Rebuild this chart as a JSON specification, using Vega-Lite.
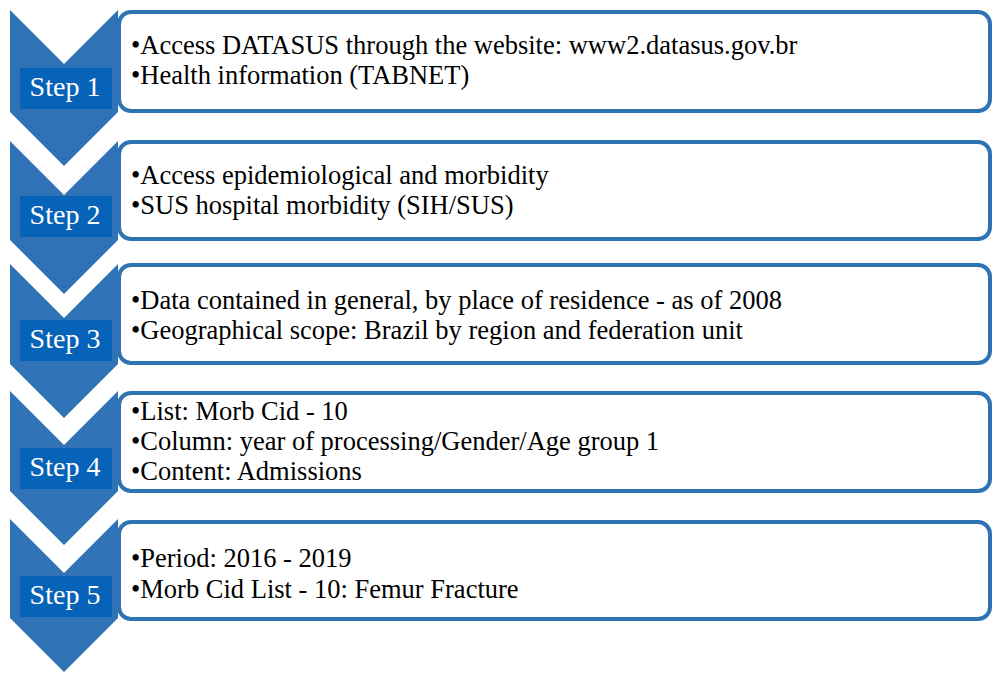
{
  "$schema": "https://vega.github.io/schema/vega-lite/v6.json",
  "width": 993,
  "height": 673,
  "autosize": {"type": "fit", "contains": "padding"},
  "padding": 0,
  "background": "white",
  "config": {"view": {"stroke": null}},
  "datasets": {
    "chev": [
      {"step": 1, "x": 10, "top": 10, "bot": 112},
      {"step": 1, "x": 64, "top": 64, "bot": 166},
      {"step": 1, "x": 118, "top": 10, "bot": 112},
      {"step": 2, "x": 10, "top": 141, "bot": 240},
      {"step": 2, "x": 64, "top": 195, "bot": 294},
      {"step": 2, "x": 118, "top": 141, "bot": 240},
      {"step": 3, "x": 10, "top": 264, "bot": 364},
      {"step": 3, "x": 64, "top": 318, "bot": 418},
      {"step": 3, "x": 118, "top": 264, "bot": 364},
      {"step": 4, "x": 10, "top": 391, "bot": 491},
      {"step": 4, "x": 64, "top": 445, "bot": 545},
      {"step": 4, "x": 118, "top": 391, "bot": 491},
      {"step": 5, "x": 10, "top": 519, "bot": 618},
      {"step": 5, "x": 64, "top": 573, "bot": 672},
      {"step": 5, "x": 118, "top": 519, "bot": 618}
    ],
    "boxes": [
      {"step": 1, "label": "Step 1", "top": 12, "bot": 111},
      {"step": 2, "label": "Step 2", "top": 142, "bot": 239},
      {"step": 3, "label": "Step 3", "top": 265, "bot": 363},
      {"step": 4, "label": "Step 4", "top": 393, "bot": 491},
      {"step": 5, "label": "Step 5", "top": 522, "bot": 619}
    ],
    "lines": [
      {"step": 1, "y": 46, "text": "•Access DATASUS through the website: www2.datasus.gov.br"},
      {"step": 1, "y": 76, "text": "•Health information (TABNET)"},
      {"step": 2, "y": 176, "text": "•Access epidemiological and morbidity"},
      {"step": 2, "y": 206, "text": "•SUS hospital morbidity (SIH/SUS)"},
      {"step": 3, "y": 301, "text": "•Data contained in general, by place of residence - as of 2008"},
      {"step": 3, "y": 331, "text": "•Geographical scope: Brazil by region and federation unit"},
      {"step": 4, "y": 412, "text": "•List: Morb Cid - 10"},
      {"step": 4, "y": 442, "text": "•Column: year of processing/Gender/Age group 1"},
      {"step": 4, "y": 472, "text": "•Content: Admissions"},
      {"step": 5, "y": 559, "text": "•Period: 2016 - 2019"},
      {"step": 5, "y": 590, "text": "•Morb Cid List - 10: Femur Fracture"}
    ]
  },
  "layer": [
    {
      "data": {"name": "chev"},
      "mark": {"type": "area", "color": "#2F73B6", "interpolate": "linear"},
      "encoding": {
        "x": {"field": "x", "type": "quantitative", "scale": {"domain": [0, 993], "nice": false, "zero": false}, "axis": null},
        "y": {"field": "top", "type": "quantitative", "scale": {"domain": [0, 673], "nice": false, "zero": false, "reverse": true}, "axis": null},
        "y2": {"field": "bot"},
        "detail": {"field": "step", "type": "nominal"}
      }
    },
    {
      "data": {"name": "boxes"},
      "mark": {"type": "rect", "fill": "white", "stroke": "#2E74B5", "strokeWidth": 4, "cornerRadius": 12},
      "encoding": {
        "x": {"datum": 119, "type": "quantitative"},
        "x2": {"datum": 990},
        "y": {"field": "top", "type": "quantitative"},
        "y2": {"field": "bot"}
      }
    },
    {
      "data": {"name": "boxes"},
      "transform": [{"calculate": "datum.bot - 43", "as": "lt"}, {"calculate": "datum.bot - 2", "as": "lb"}],
      "mark": {"type": "rect", "fill": "#0763B7"},
      "encoding": {
        "x": {"datum": 20, "type": "quantitative"},
        "x2": {"datum": 112},
        "y": {"field": "lt", "type": "quantitative"},
        "y2": {"field": "lb"}
      }
    },
    {
      "data": {"name": "boxes"},
      "transform": [{"calculate": "datum.bot - 23", "as": "ly"}],
      "mark": {"type": "text", "color": "white", "font": "Liberation Serif", "fontSize": 28, "align": "center", "baseline": "middle"},
      "encoding": {
        "x": {"datum": 65, "type": "quantitative"},
        "y": {"field": "ly", "type": "quantitative"},
        "text": {"field": "label"}
      }
    },
    {
      "data": {"name": "lines"},
      "mark": {"type": "text", "color": "black", "font": "Liberation Serif", "fontSize": 26.5, "align": "left", "baseline": "middle"},
      "encoding": {
        "x": {"datum": 131, "type": "quantitative"},
        "y": {"field": "y", "type": "quantitative"},
        "text": {"field": "text"}
      }
    }
  ]
}
